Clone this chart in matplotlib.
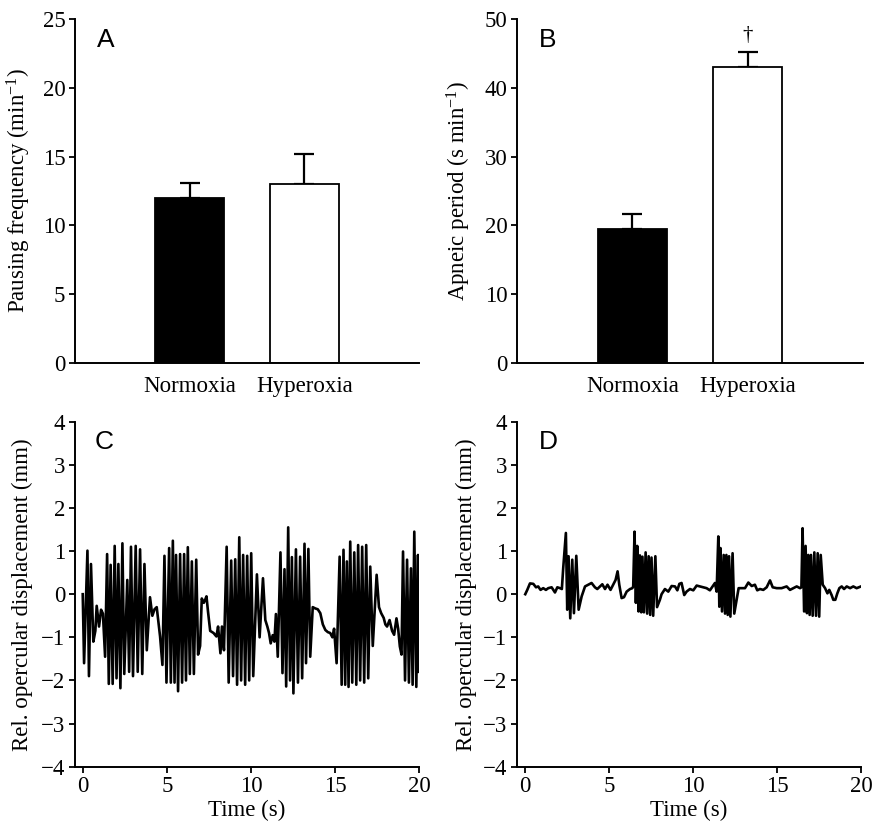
import matplotlib
matplotlib.use("Agg")
import matplotlib.pyplot as plt

plt.rcParams['font.family'] = ['Liberation Serif', 'DejaVu Serif']
plt.rcParams['mathtext.fontset'] = 'custom'
plt.rcParams['mathtext.rm'] = 'Liberation Serif'
plt.rcParams['mathtext.it'] = 'Liberation Serif:italic'
plt.rcParams['mathtext.default'] = 'rm'

# ---------------- data ----------------
conditions = ["Normoxia", "Hyperoxia"]
pausing_freq = [12.0, 13.0]
pausing_freq_se = [1.08, 2.18]
apneic_period = [19.5, 43.05]
apneic_period_se = [2.2, 2.2]

# Panel C: normoxia trace (time s, displacement mm)
c_t = [0.00, 0.08, 0.28, 0.37, 0.49, 0.63, 0.75, 0.83, 0.97, 1.09, 1.20, 1.33,
       1.45, 1.55, 1.66, 1.78, 1.90, 2.01, 2.12, 2.24, 2.36, 2.47, 2.65, 2.76, 2.87, 2.99, 3.15, 3.27, 3.41, 3.54, 3.67,
       3.81, 3.92, 4.00, 4.14, 4.27, 4.40, 4.60, 4.74,
       4.86, 4.98, 5.14, 5.24, 5.36, 5.46, 5.55, 5.67, 5.79, 5.91, 6.03, 6.14, 6.25, 6.37, 6.49, 6.61, 6.75, 6.86,
       6.98, 7.08, 7.20, 7.28, 7.36, 7.45, 7.58, 7.78, 7.95, 8.05, 8.19, 8.28, 8.40,
       8.56, 8.68, 8.83, 8.94, 9.07, 9.18, 9.31, 9.42, 9.54, 9.66, 9.78, 9.90, 10.02, 10.14, 10.36, 10.52,
       10.72, 10.86, 10.98, 11.08, 11.18, 11.30, 11.40, 11.49, 11.60,
       11.76, 11.88, 12.00, 12.10, 12.22, 12.33, 12.44, 12.53, 12.68, 12.80, 12.93, 13.05, 13.19, 13.28, 13.42, 13.53,
       13.68, 13.83, 13.98, 14.13, 14.28, 14.43, 14.58, 14.72, 14.85, 14.95, 15.10,
       15.28, 15.40, 15.51, 15.61, 15.71, 15.81, 15.91, 16.03, 16.15, 16.27, 16.38, 16.50, 16.62, 16.74, 16.86, 16.98, 17.10, 17.25, 17.48,
       17.62, 17.75, 17.90, 18.00, 18.10, 18.25, 18.40, 18.52, 18.66, 18.76, 18.86, 18.96,
       19.05, 19.17, 19.29, 19.40, 19.52, 19.62, 19.72, 19.84, 19.94, 20.00]
c_y = [0.00, -1.60, 1.01, -1.90, 0.70, -1.10, -0.85, -0.27, -0.75, -0.36, -0.45, -1.45,
       0.93, -2.08, 0.68, -2.08, 1.12, -1.95, 0.70, -2.18, 1.18, -1.85, 0.33, -1.80, 1.10, -1.90, 1.12, -1.80, 1.04, -1.85, 0.70,
       -1.30, -0.60, -0.07, -0.50, -0.35, -0.30, -0.98, -1.64,
       0.89, -2.05, 1.07, -2.05, 1.24, -2.05, 0.91, -2.25, 0.93, -2.05, 0.93, -2.00, 1.09, -1.85, 0.76, -1.85, 0.80, -1.40,
       -1.20, -0.10, -0.20, -0.13, -0.05, -0.40, -0.85, -0.90, -0.98, -0.75, -1.37, -0.75, -1.30,
       1.10, -2.05, 0.78, -1.90, 0.81, -2.10, 1.32, -2.00, 0.91, -2.10, 0.89, -2.00, 0.95, -1.90, 0.46, -1.00,
       0.37, -0.60, -0.75, -0.90, -1.14, -0.95, -1.10, -0.46, -1.45,
       0.97, -1.83, 0.58, -2.14, 1.55, -2.00, 0.86, -2.30, 1.04, -2.05, 0.87, -1.95, 1.17, -1.60, 1.05, -1.45,
       -0.30, -0.33, -0.35, -0.44, -0.70, -0.83, -0.88, -0.90, -1.00, -0.80, -1.60,
       0.87, -2.10, 1.03, -2.10, 0.76, -2.15, 1.22, -2.05, 0.97, -2.10, 1.14, -2.00, 1.10, -2.05, 1.14, -1.95, 0.64, -1.20, 0.45,
       -0.30, -0.44, -0.55, -0.70, -0.75, -0.60, -0.85, -0.94, -0.56, -0.80, -1.21, -1.40,
       0.99, -2.00, 0.80, -2.05, 0.60, -2.10, 1.45, -2.15, 0.91, -1.80]

# Panel D: hyperoxia trace (time s, displacement mm)
d_t = [0.00, 0.12, 0.28, 0.48, 0.64, 0.77, 0.91, 1.07, 1.23, 1.37, 1.57, 1.77, 1.91, 2.07, 2.18, 2.26,
       2.42, 2.50, 2.58, 2.68, 2.80, 2.90, 3.04, 3.18,
       3.36, 3.56, 3.75, 3.95, 4.15, 4.29, 4.45, 4.59, 4.75, 4.90, 5.08, 5.24, 5.38, 5.50, 5.60, 5.74, 5.88, 6.04, 6.24, 6.38, 6.43,
       6.51, 6.59, 6.67, 6.75, 6.83, 6.91, 6.98, 7.07, 7.17, 7.26, 7.35, 7.44, 7.52, 7.62, 7.75, 7.85,
       8.02, 8.12, 8.32, 8.52, 8.72, 8.92, 9.06, 9.18, 9.31, 9.47, 9.61, 9.81, 10.01, 10.21, 10.41, 10.61, 10.80, 11.00, 11.16, 11.30, 11.40,
       11.50, 11.56, 11.63, 11.72, 11.82, 11.90, 11.98, 12.06, 12.14, 12.22, 12.35, 12.45,
       12.59, 12.71, 12.89, 13.09, 13.29, 13.49, 13.68, 13.82, 13.98, 14.18, 14.38, 14.58, 14.74, 14.98, 15.27, 15.57, 15.77, 15.97, 16.17, 16.37, 16.45,
       16.52, 16.61, 16.70, 16.78, 16.86, 16.94, 17.02, 17.12, 17.22, 17.32, 17.42, 17.51, 17.60,
       17.72, 17.86, 18.00, 18.11, 18.25, 18.35, 18.47, 18.59, 18.71, 18.85, 18.99, 19.15, 19.35, 19.54, 19.74, 20.00]
d_y = [0.00, 0.10, 0.25, 0.24, 0.16, 0.18, 0.10, 0.14, 0.10, 0.14, 0.16, 0.04, 0.16, 0.14, 0.12, 0.60,
       1.42, -0.36, 0.88, -0.56, 0.80, -0.44, 0.89, -0.36,
       -0.05, 0.18, 0.22, 0.26, 0.16, 0.12, 0.18, 0.23, 0.12, 0.22, 0.10, 0.22, 0.33, 0.53, 0.22, -0.09, -0.07, 0.06, 0.12, 0.14, 0.18,
       1.45, -0.20, 1.12, -0.40, 0.90, -0.42, 0.87, -0.42, 0.97, -0.45, 0.88, -0.48, 0.85, -0.50, 0.88, -0.30,
       -0.13, 0.00, 0.12, 0.06, 0.19, 0.18, 0.09, 0.24, 0.26, -0.02, 0.06, 0.12, 0.09, 0.20, 0.18, 0.16, 0.14, 0.09, 0.18, 0.26, 0.06,
       1.34, -0.29, 1.07, -0.40, 0.91, -0.45, 0.91, -0.48, 0.88, -0.52, 0.95, -0.45,
       -0.13, 0.14, 0.14, 0.14, 0.27, 0.19, 0.22, 0.09, 0.12, 0.10, 0.16, 0.32, 0.16, 0.14, 0.14, 0.18, 0.10, 0.14, 0.18, 0.14, 0.16,
       1.53, -0.40, 1.12, -0.44, 0.91, -0.48, 0.91, -0.50, 0.97, -0.50, 0.95, -0.52, 0.91,
       0.22, 0.14, 0.02, 0.10, -0.02, -0.13, -0.13, 0.02, 0.14, 0.18, 0.12, 0.18, 0.14, 0.18, 0.14, 0.18]

panel_letters = ["A", "B", "C", "D"]
bar_ylabels = ["Pausing frequency (min$^{-1}$)", "Apneic period (s min$^{-1}$)"]
trace_ylabel = "Rel. opercular displacement (mm)"
time_label = "Time (s)"

# ---------------- figure ----------------
FS = 16.5
fig = plt.figure(figsize=(8.72, 8.21), dpi=100)
W, H = 872.0, 821.0

def add_axes(left, right, top, bottom):
    return fig.add_axes([left / W, 1 - bottom / H, (right - left) / W, (bottom - top) / H])

axA = add_axes(75, 419, 19, 363)
axB = add_axes(517, 863, 19, 363)
axC = add_axes(75, 419, 421.7, 766.7)
axD = add_axes(516.7, 861, 421.7, 766.7)

def style(ax):
    for s in ("top", "right"):
        ax.spines[s].set_visible(False)
    for s in ("left", "bottom"):
        ax.spines[s].set_linewidth(1.4)
    ax.tick_params(axis="both", direction="out", length=4, width=1.3, labelsize=FS, pad=3)

# bar panels
x = [0, 1]
for ax, vals, errs, ymax, step, ylab in [
        (axA, pausing_freq, pausing_freq_se, 25, 5, bar_ylabels[0]),
        (axB, apneic_period, apneic_period_se, 50, 10, bar_ylabels[1])]:
    style(ax)
    ax.bar(x, vals, width=0.6, color=["black", "white"], edgecolor="black", linewidth=1.3, zorder=2)
    ax.errorbar(x, vals, yerr=[[0, 0], errs], fmt="none", ecolor="black",
                elinewidth=1.6, capsize=7, capthick=1.6, zorder=1)
    ax.set_xlim(-1, 2)
    ax.set_ylim(0, ymax)
    ax.set_yticks(range(0, ymax + 1, step))
    ax.set_xticks(x)
    ax.set_xticklabels(conditions)
    ax.tick_params(axis="x", length=0, pad=9)
    ax.set_ylabel(ylab, fontsize=FS)

axA.yaxis.set_label_coords(-0.122, 0.5)
axB.yaxis.set_label_coords(-0.127, 0.5)
axB.text(1, apneic_period[1] + apneic_period_se[1] + 2.3, "\u2020", ha="center", va="center", fontsize=15)

# trace panels
for ax, tt, yy, xl in [(axC, c_t, c_y, -0.46), (axD, d_t, d_y, -0.51)]:
    style(ax)
    ax.plot(tt, yy, color="black", linewidth=1.9)
    ax.set_xlim(xl, 20)
    ax.set_ylim(-4, 4)
    ax.set_xticks([0, 5, 10, 15, 20])
    ax.set_yticks(range(-4, 5))
    ax.set_ylabel(trace_ylabel, fontsize=FS)
    ax.set_xlabel(time_label, fontsize=FS, labelpad=2)

axC.yaxis.set_label_coords(-0.122, 0.5)
axD.yaxis.set_label_coords(-0.116, 0.5)

for ax, letter, xx in [(axA, "A", 0.064), (axB, "B", 0.064), (axC, "C", 0.058), (axD, "D", 0.065)]:
    ax.text(xx, 0.975, letter, transform=ax.transAxes, ha="left", va="top",
            fontsize=19, family="Liberation Sans")

fig.savefig("out.png", dpi=100)
